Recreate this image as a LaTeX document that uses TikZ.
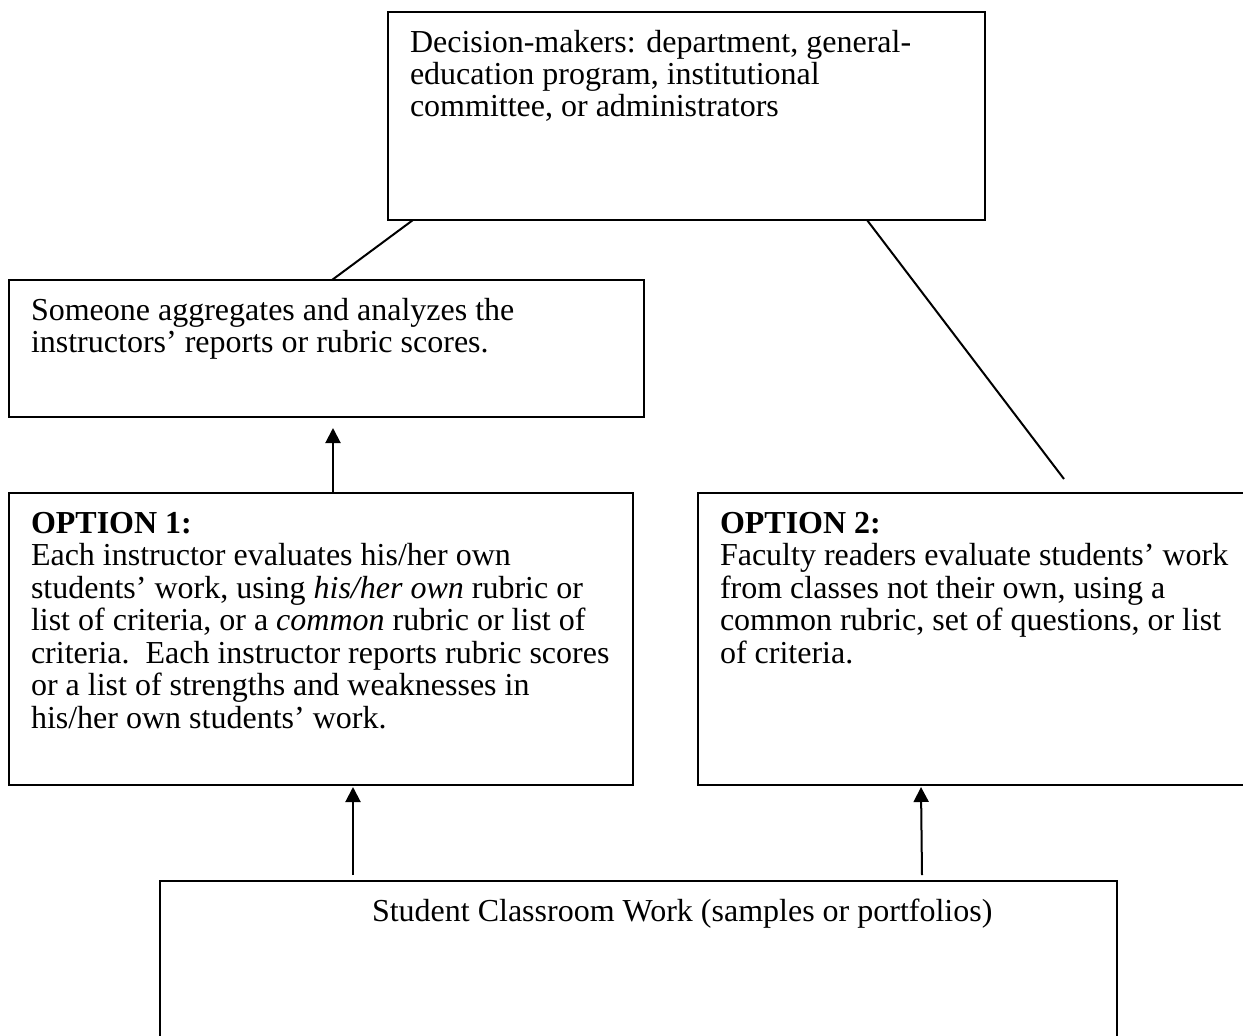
\documentclass[tikz,border=0pt]{standalone}
\usepackage{fontspec}
\setmainfont{Liberation Serif}
\usetikzlibrary{arrows.meta}
\newcommand{\mylines}[1]{\begin{tabular}[t]{@{}l@{}}#1\end{tabular}}
\tikzset{
  box/.style={draw, line width=2pt, rectangle, inner sep=0pt, outer sep=0pt, anchor=north west},
  txt/.style={inner sep=0pt, outer sep=0pt, anchor=base west, font=\fontsize{32}{32.5}\selectfont},
  conn/.style={line width=2pt},
  arr/.style={line width=2pt, -{Triangle[length=15pt,width=15pt]}}
}
\begin{document}
\begin{tikzpicture}[x=1pt,y=-1pt]
\useasboundingbox (0,0) rectangle (1243,1036);
\clip (0,0) rectangle (1243,1036);
% boxes
\node[box, minimum width=597pt, minimum height=208pt] (dec) at (388,12) {};
\node[box, minimum width=635pt, minimum height=137pt] (agg) at (9,280) {};
\node[box, minimum width=624pt, minimum height=292pt] (opt1) at (9,493) {};
\node[box, minimum width=560pt, minimum height=292pt] (opt2) at (698,493) {};
\node[box, minimum width=957pt, minimum height=200pt] (work) at (160,881) {};
% texts
\node[txt] (dectext) at (410,52) {\mylines{Decision-makers: department, general-\\education program, institutional\\committee, or administrators}};
\node[txt] (aggtext) at (31,320) {\mylines{Someone aggregates and analyzes the\\instructors’ reports or rubric scores.}};
\node[txt] (opt1text) at (31,533) {\mylines{\textbf{OPTION 1:}\\Each instructor evaluates his/her own\\students’ work, using \textit{his/her own} rubric or\\list of criteria, or a \textit{common} rubric or list of\\criteria.\ \ Each instructor reports rubric scores\\or a list of strengths and weaknesses in\\his/her own students’ work.}};
\node[txt] (opt2text) at (720,533) {\mylines{\textbf{OPTION 2:}\\Faculty readers evaluate students’ work\\from classes not their own, using a\\common rubric, set of questions, or list\\of criteria.}};
\node[txt] (worktext) at (372,921) {Student Classroom Work (samples or portfolios)};
% connector end points
\coordinate (d1) at (413,220);
\coordinate (a1) at (332,280);
\coordinate (d2) at (867,220);
\coordinate (o2end) at (1064,479);
\coordinate (o1top) at (333,493);
\coordinate (aggtip) at (333,417);
\coordinate (w1) at (353,875);
\coordinate (o1bot) at (353,785);
\coordinate (w2) at (922,875);
\coordinate (o2bot) at (921,785);
% connectors
\draw[conn] (d1) -- (a1);
\draw[conn] (d2) -- (o2end);
\draw[arr] (o1top) -- ([yshift=-11pt]aggtip);
\draw[arr] (w1) -- ([yshift=-2pt]o1bot);
\draw[arr] (w2) -- ([yshift=-2pt]o2bot);
\end{tikzpicture}
\end{document}
